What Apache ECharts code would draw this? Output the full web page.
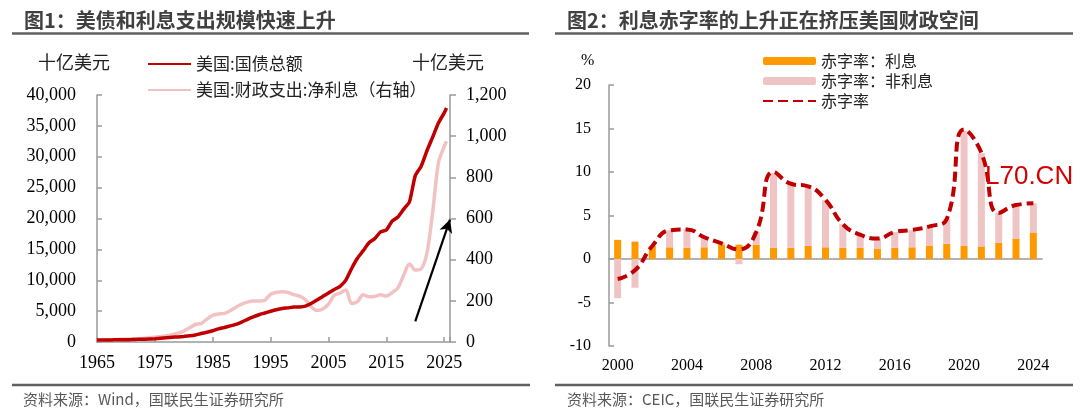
<!DOCTYPE html>
<html>
<head>
<meta charset="utf-8">
<script src="https://cdn.jsdelivr.net/npm/echarts@6/dist/echarts.min.js"></script>
<style>
html,body{margin:0;padding:0;background:#fff;}
#c{width:1080px;height:414px;}
</style>
</head>
<body>
<div id="c"></div>
<script>
// ---------- Chart 1 data (billion USD) ----------
const years1 = [1965,1966,1967,1968,1969,1970,1971,1972,1973,1974,1975,1976,1977,1978,1979,1980,1981,1982,1983,1984,1985,1986,1987,1988,1989,1990,1991,1992,1993,1994,1995,1996,1997,1998,1999,2000,2001,2002,2003,2004,2005,2006,2007,2008,2009,2010,2011,2012,2013,2014,2015,2016,2017,2018,2019,2020,2021,2022,2023,2024,2025,2025.4];
const debtTotal = [317,320,326,348,354,371,398,427,458,475,533,620,699,772,827,908,998,1142,1377,1572,1823,2125,2350,2602,2857,3233,3665,4065,4412,4693,4974,5225,5413,5526,5656,5674,5808,6228,6783,7379,7933,8507,9008,10025,11910,13562,14790,16066,16738,17824,18151,19573,20245,21516,22719,26945,28429,30929,33167,35465,37100,37900];
const netInterest = [9,9,10,11,13,14,15,16,17,21,23,27,30,36,43,53,69,85,90,111,130,136,139,152,169,184,194,199,199,203,232,241,244,241,230,223,206,171,153,160,184,227,237,253,187,196,230,220,221,229,223,240,263,325,379,350,355,430,630,870,950,975];
const arrowFrom = [2020, 100];   // annotation arrow (right-axis units)
const arrowTo = [2026, 595];

// ---------- Chart 2 data (% of GDP) ----------
const years2 = ['2000','2001','2002','2003','2004','2005','2006','2007','2008','2009','2010','2011','2012','2013','2014','2015','2016','2017','2018','2019','2020','2021','2022','2023','2024'];
const rateInterest = [2.2,2.0,1.5,1.35,1.3,1.35,1.65,1.65,1.65,1.3,1.3,1.5,1.35,1.3,1.3,1.15,1.3,1.35,1.55,1.75,1.55,1.45,1.85,2.35,3.05];
const rateNonInterest = [-4.5,-3.3,0.0,1.95,2.1,1.15,0.2,-0.6,1.45,8.6,7.35,6.85,5.4,2.7,1.5,1.2,1.8,1.95,2.15,2.85,13.2,10.7,3.45,3.65,3.35];
const rateDeficit = [-2.3,-1.3,1.5,3.3,3.4,2.5,1.8,1.1,3.1,10.0,8.65,8.35,6.8,4.0,2.8,2.35,3.1,3.35,3.75,4.6,14.9,12.2,5.3,6.2,6.4];

const CJK = '"Noto Sans CJK SC", "Noto Sans", sans-serif';
const SERIF = '"Liberation Serif", "DejaVu Serif", serif';
const AX = '#9a9a9a';

const chart = echarts.init(document.getElementById('c'), null, {renderer:'canvas'});

const option = {
  animation: false,
  backgroundColor: '#ffffff',
  textStyle: {fontFamily: SERIF},
  grid: [
    {left: 97, top: 95, width: 353, height: 247, containLabel: false},
    {left: 609, top: 85, width: 433, height: 261, containLabel: false}
  ],
  legend: [
    {
      orient: 'vertical', left: 142, top: 50, itemWidth: 43, itemHeight: 14, itemGap: 8,
      data: [
        {name: '美国:国债总额', itemStyle: {opacity: 0}},
        {name: '美国:财政支出:净利息（右轴）', itemStyle: {opacity: 0}}
      ],
      textStyle: {fontFamily: CJK, fontSize: 17, color: '#222', lineHeight: 18}
    },
    {
      orient: 'vertical', left: 757, top: 48, itemWidth: 53, itemHeight: 8, itemGap: 4,
      data: [
        {name: '赤字率：利息'},
        {name: '赤字率：非利息'},
        {name: '赤字率', itemStyle: {opacity: 0}}
      ],
      textStyle: {fontFamily: CJK, fontSize: 16, color: '#222', lineHeight: 16}
    }
  ],
  xAxis: [
    {
      type: 'value', gridIndex: 0, min: 1965, max: 2026, interval: 10,
      axisLine: {lineStyle: {color: AX, width: 1.5}},
      axisTick: {inside: true, length: 5, lineStyle: {color: AX, width: 1.5}},
      axisLabel: {fontFamily: SERIF, fontSize: 18, color: '#000', margin: 12,
        formatter: v => (v % 5 === 0 ? String(v) : '')},
      splitLine: {show: false}
    },
    {
      type: 'category', gridIndex: 1, data: years2, position: 'bottom',
      axisLine: {show: false, onZero: false}, axisTick: {show: false},
      axisLabel: {interval: 3, fontFamily: SERIF, fontSize: 16, color: '#000', margin: 12},
      splitLine: {show: false}
    },
    {
      type: 'category', gridIndex: 1, data: years2,
      axisLine: {onZero: true, lineStyle: {color: AX, width: 1.5}},
      axisTick: {inside: true, interval: 3, length: 5, lineStyle: {color: AX, width: 1.5}},
      axisLabel: {show: false},
      splitLine: {show: false}
    }
  ],
  yAxis: [
    {
      type: 'value', gridIndex: 0, min: 0, max: 40000, interval: 5000,
      axisLine: {show: true, lineStyle: {color: AX, width: 1.5}},
      axisTick: {show: true, inside: true, length: 5, lineStyle: {color: AX, width: 1.5}},
      axisLabel: {fontFamily: SERIF, fontSize: 18, color: '#000', margin: 21},
      splitLine: {show: false}
    },
    {
      type: 'value', gridIndex: 0, position: 'right', min: 0, max: 1200, interval: 200,
      axisLine: {show: true, lineStyle: {color: AX, width: 1.5}},
      axisTick: {show: true, inside: false, length: 6, lineStyle: {color: AX, width: 1.5}},
      axisLabel: {fontFamily: SERIF, fontSize: 18, color: '#000', margin: 16},
      splitLine: {show: false}
    },
    {
      type: 'value', gridIndex: 1, min: -10, max: 20, interval: 5,
      axisLine: {show: true, lineStyle: {color: AX, width: 1.5}},
      axisTick: {show: true, inside: true, length: 5, lineStyle: {color: AX, width: 1.5}},
      axisLabel: {fontFamily: SERIF, fontSize: 16, color: '#000', margin: 18},
      splitLine: {show: false}
    }
  ],
  series: [
    {
      name: '美国:财政支出:净利息（右轴）', type: 'line', xAxisIndex: 0, yAxisIndex: 1,
      data: years1.map((y, i) => [y, netInterest[i]]),
      smooth: 0.3, symbol: 'none', z: 2,
      lineStyle: {color: '#F2C2C2', width: 3.5}, itemStyle: {color: '#F2C2C2'},
      markLine: {
        silent: true, symbol: ['none', 'arrow'], symbolSize: [10, 13],
        label: {show: false},
        lineStyle: {color: '#000', width: 2.2, type: 'solid'},
        data: [[{coord: arrowFrom}, {coord: arrowTo}]]
      }
    },
    {
      name: '美国:国债总额', type: 'line', xAxisIndex: 0, yAxisIndex: 0,
      data: years1.map((y, i) => [y, debtTotal[i]]),
      smooth: 0.2, symbol: 'none', z: 3,
      lineStyle: {color: '#C00000', width: 3.5}, itemStyle: {color: '#C00000'}
    },
    {
      name: '赤字率：利息', type: 'bar', xAxisIndex: 1, yAxisIndex: 2, stack: 'def',
      data: rateInterest, barWidth: 7,
      itemStyle: {color: '#FF9900'}
    },
    {
      name: '赤字率：非利息', type: 'bar', xAxisIndex: 1, yAxisIndex: 2, stack: 'def',
      data: rateNonInterest, barWidth: 7,
      itemStyle: {color: '#EFC4C4'}
    },
    {
      name: '赤字率', type: 'line', xAxisIndex: 1, yAxisIndex: 2,
      data: rateDeficit, smooth: 0.5, symbol: 'none', z: 5,
      lineStyle: {color: '#C00000', width: 4, type: [10, 5]}, itemStyle: {color: '#C00000'}
    }
  ],
  graphic: [
    {type: 'text', left: 24, top: 10, style: {text: '图1：美债和利息支出规模快速上升', font: 'bold 20px ' + CJK, fill: '#404040'}},
    {type: 'line', shape: {x1: 12, y1: 33.5, x2: 529, y2: 33.5}, style: {stroke: '#606060', lineWidth: 2.5}},
    {type: 'text', left: 567, top: 10, style: {text: '图2：利息赤字率的上升正在挤压美国财政空间', font: 'bold 20px ' + CJK, fill: '#404040'}},
    {type: 'line', shape: {x1: 555, y1: 33.5, x2: 1073, y2: 33.5}, style: {stroke: '#606060', lineWidth: 2.5}},
    {type: 'line', shape: {x1: 12, y1: 385, x2: 530, y2: 385}, style: {stroke: '#606060', lineWidth: 2.5}},
    {type: 'line', shape: {x1: 555, y1: 385, x2: 1073, y2: 385}, style: {stroke: '#606060', lineWidth: 2.5}},
    {type: 'text', left: 23, top: 392, style: {text: '资料来源：Wind，国联民生证券研究所', font: '15px ' + CJK, fill: '#595959'}},
    {type: 'text', left: 567, top: 392, style: {text: '资料来源：CEIC，国联民生证券研究所', font: '15px ' + CJK, fill: '#595959'}},
    {type: 'text', left: 38, top: 53, style: {text: '十亿美元', font: '18px ' + CJK, fill: '#222'}},
    {type: 'text', left: 412, top: 53, style: {text: '十亿美元', font: '18px ' + CJK, fill: '#222'}},
    {type: 'text', left: 581, top: 53, style: {text: '%', font: '16px ' + SERIF, fill: '#000'}},
    {type: 'text', left: 985, top: 164, z: 100, style: {text: 'L70.CN', font: '26px "Liberation Sans", Arial, sans-serif', fill: '#D40000'}}
  ]
};
chart.setOption(option);
</script>
</body>
</html>
